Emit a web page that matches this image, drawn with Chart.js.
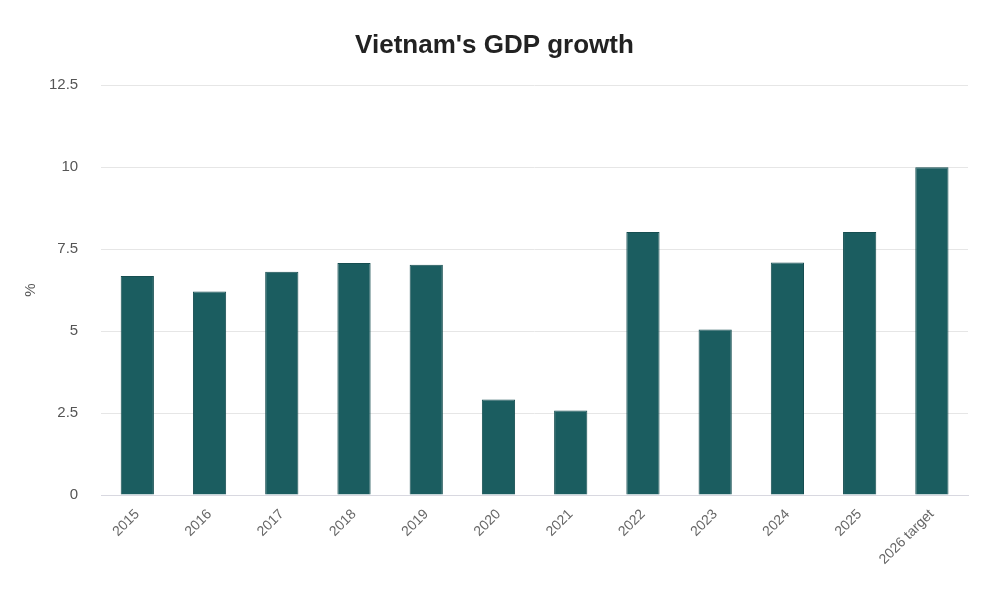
<!DOCTYPE html>
<html>
<head>
<meta charset="utf-8">
<script src="https://cdn.jsdelivr.net/npm/chart.js@4.4.0/dist/chart.umd.min.js"></script>
<style>
  html, body { margin: 0; padding: 0; background: #fff; }
  #wrap { width: 1000px; height: 589px; }
</style>
</head>
<body>
<div id="wrap"><canvas id="gdpChart"></canvas></div>
<script>
// Dados
const categories = ['2015', '2016', '2017', '2018', '2019', '2020', '2021', '2022', '2023', '2024', '2025', '2026 target'];
const growth = [6.68, 6.21, 6.81, 7.08, 7.02, 2.91, 2.58, 8.02, 5.05, 7.09, 8.02, 10];
const yTicks = [0, 2.5, 5, 7.5, 10, 12.5];

window.onload = () => {
    const ctx = document.getElementById('gdpChart').getContext('2d');
    new Chart(ctx, {
        type: 'bar',
        data: {
            labels: categories,
            datasets: [{
                label: 'GDP growth',
                data: growth,
                backgroundColor: '#1b5d60',
                borderColor: '#164e51',
                borderWidth: 1,
                categoryPercentage: 0.92,
                barPercentage: 0.5
            }]
        },
        options: {
            responsive: true,
            maintainAspectRatio: false,
            animation: false,
            layout: { padding: { left: 21, right: 32, top: 19, bottom: 18 } },
            plugins: {
                legend: { display: false },
                tooltip: { enabled: false },
                title: {
                    display: true,
                    text: "Vietnam's GDP growth",
                    color: '#222',
                    font: { family: 'Arial, Liberation Sans, sans-serif', size: 26, weight: 'bold' },
                    padding: { top: 11, bottom: 24 }
                }
            },
            scales: {
                x: {
                    grid: { display: false },
                    border: { color: '#d8d8e0' },
                    ticks: {
                        color: '#666',
                        maxRotation: 45,
                        minRotation: 45,
                        font: { family: 'Arial, Liberation Sans, sans-serif', size: 14 }
                    }
                },
                y: {
                    min: 0,
                    max: 12.5,
                    afterBuildTicks: (axis) => {
                        axis.ticks = yTicks.map(v => ({ value: v }));
                    },
                    grid: { color: '#e6e6e6', drawTicks: false },
                    border: { display: false },
                    ticks: {
                        color: '#555',
                        padding: 23,
                        font: { family: 'Arial, Liberation Sans, sans-serif', size: 15 }
                    },
                    title: {
                        display: true,
                        text: '%',
                        color: '#555',
                        padding: { top: 1, bottom: -14 },
                        font: { family: 'Arial, Liberation Sans, sans-serif', size: 15 }
                    }
                }
            }
        }
    });
};
</script>
</body>
</html>
